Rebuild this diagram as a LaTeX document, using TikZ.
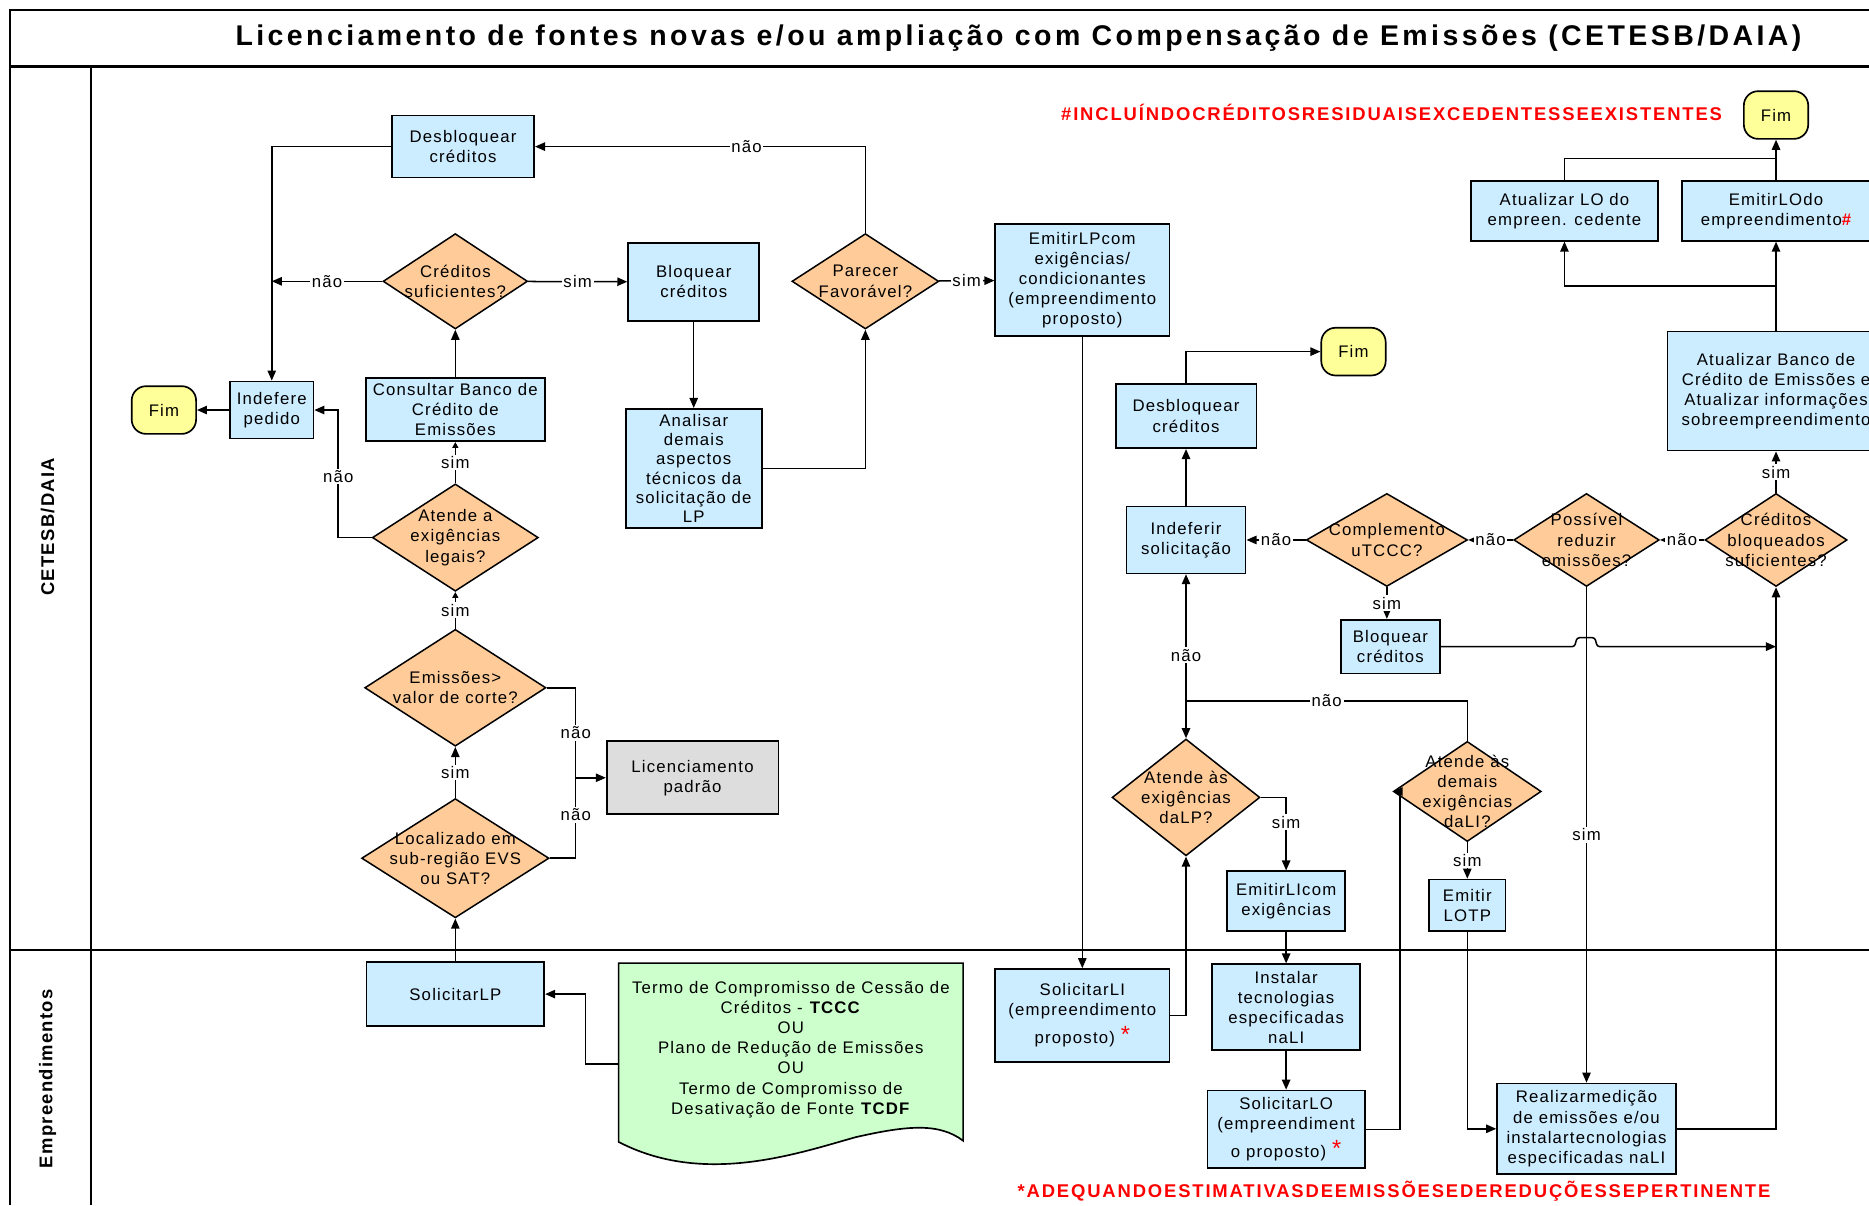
\documentclass[tikz,border=0pt]{standalone}
\usepackage{fontspec}
\setmainfont{Liberation Sans}[LetterSpace=7]
\usetikzlibrary{shapes.geometric,arrows.meta}

\definecolor{boxfill}{HTML}{CCECFF}
\definecolor{decfill}{HTML}{FFCC99}
\definecolor{fimfill}{HTML}{FFFF99}
\definecolor{padfill}{HTML}{DDDDDD}
\definecolor{docfill}{HTML}{CCFFCC}

\newcommand{\redast}{{\color{red}\fontsize{14}{14}\selectfont\raisebox{1pt}{*}}}

\tikzset{
  proc/.style={draw, rectangle, fill=boxfill, line width=1pt, align=center, inner sep=1pt, font=\fontsize{10}{12}\selectfont},
  dec/.style={draw, diamond, fill=decfill, line width=0.9pt, inner sep=0pt},
  dtxt/.style={align=center, inner sep=0pt, font=\fontsize{10}{12}\selectfont},
  fim/.style={draw, rectangle, rounded corners=0.3cm, fill=fimfill, line width=1pt, minimum width=1.35cm, minimum height=1cm, font=\fontsize{10}{12}\selectfont},
  lbl/.style={fill=white, inner sep=1pt, font=\fontsize{10}{12}\selectfont},
  lane/.style={rotate=90, font=\fontsize{11}{13}\bfseries},
  note/.style={text=red, font=\fontsize{11}{13}\bfseries\addfontfeature{LetterSpace=10}},
  arr/.style={-{Triangle[length=6pt,width=5pt]}},
  arrs/.style={-{Triangle[length=3.5pt,width=3.5pt]}},
}

\begin{document}
\begin{tikzpicture}[x=0.025cm, y=-0.025cm, line width=0.9pt]
	\useasboundingbox (0,0) rectangle (1568,1011);
	\clip (0,0) rectangle (1568,1011);

	% quadro e raias
	\draw[line width=1.2pt] (8,1011) -- (8,8) -- (1568,8);
	\draw[line width=2pt] (8,56) -- (1568,56);
	\draw[line width=1.2pt] (76,56) -- (76,1011);
	\draw[line width=1.5pt] (8,797) -- (1568,797);
	\node[font=\fontsize{17}{20}\bfseries\addfontfeature{LetterSpace=12}] (ttl) at (854.5,32) {Licenciamento de fontes novas e/ou ampliação com Compensação de Emissões (CETESB/DAIA)};
	\node[lane] (lane1) at (40,442) {CETESB/DAIA};
	\node[lane] (lane2) at (40,905) {Empreendimentos};
	\node[note] (note1) at (1167.5,94) {\#INCLUÍNDOCRÉDITOSRESIDUAISEXCEDENTESSEEXISTENTES};
	\node[note] (note2) at (1169.5,999) {*ADEQUANDOESTIMATIVASDEEMISSÕESEDEREDUÇÕESSEPERTINENTE};

	% nós - CETESB/DAIA, lado esquerdo
	\node[proc, minimum width=2.98cm, minimum height=1.3cm] (dbl1) at (388.5,123) {Desbloquear\\créditos};
	\node[dec, minimum width=3.03cm, minimum height=2cm, label={[dtxt]center:{Créditos\\suficientes?}}] (cs) at (382,236) {};
	\node[proc, minimum width=2.75cm, minimum height=1.63cm] (bq1) at (582,236.5) {Bloquear\\créditos};
	\node[dec, minimum width=3.08cm, minimum height=2cm, label={[dtxt]center:{Parecer\\Favorável?}}] (pf) at (726,236) {};
	\node[proc, minimum width=3.65cm, minimum height=2.35cm] (elp) at (908,235) {EmitirLPcom\\exigências/\\condicionantes\\(empreendimento\\proposto)};
	\node[fim] (fim1) at (137.5,344) {Fim};
	\node[proc, minimum width=1.75cm, minimum height=1.2cm] (ind) at (228,344) {Indefere\\pedido};
	\node[proc, minimum width=3.75cm, minimum height=1.33cm] (cbe) at (382,343.5) {Consultar Banco de\\Crédito de\\Emissões};
	\node[proc, minimum width=2.85cm, minimum height=2.5cm, inner sep=0pt, font=\fontsize{10}{11.5}\selectfont] (ana) at (582,393) {Analisar\\demais\\aspectos\\técnicos da\\solicitação de\\LP};
	\node[dec, minimum width=3.48cm, minimum height=2.25cm, label={[dtxt]center:{Atende a\\exigências\\legais?}}] (ael) at (382,451) {};
	\node[dec, minimum width=3.8cm, minimum height=2.45cm, label={[dtxt]center:{Emissões>\\valor de corte?}}] (evc) at (382,577) {};
	\node[proc, fill=padfill, minimum width=3.6cm, minimum height=1.53cm] (lpd) at (581,652.5) {Licenciamento\\padrão};
	\node[dec, minimum width=3.93cm, minimum height=2.5cm, label={[dtxt]center:{Localizado em\\sub-região EVS\\ou SAT?}}] (loc) at (382,720) {};

	% nós - CETESB/DAIA, lado direito
	\node[fim] (fim3) at (1490,96.5) {Fim};
	\node[proc, minimum width=3.93cm, minimum height=1.25cm] (alo) at (1312.5,177) {Atualizar LO do\\empreen. cedente};
	\node[proc, minimum width=3.95cm, minimum height=1.25cm] (elo) at (1490,177) {EmitirLOdo\\empreendimento{\color{red}\bfseries\#}};
	\node[proc, minimum width=4.55cm, minimum height=2.5cm] (abc) at (1490,328) {Atualizar Banco de\\Crédito de Emissões e\\Atualizar informações\\sobreempreendimento};
	\node[fim] (fim2) at (1135.5,295) {Fim};
	\node[proc, minimum width=2.95cm, minimum height=1.35cm] (dbl2) at (995,349) {Desbloquear\\créditos};
	\node[proc, minimum width=2.5cm, minimum height=1.4cm] (isol) at (995,453) {Indeferir\\solicitação};
	\node[dec, minimum width=3.38cm, minimum height=1.95cm, label={[dtxt]center:{Complemento\\uTCCC?}}] (cmp) at (1163.5,453) {};
	\node[dec, minimum width=3.05cm, minimum height=1.95cm, label={[dtxt]center:{Possível\\reduzir\\emissões?}}] (prd) at (1331,453) {};
	\node[dec, minimum width=2.98cm, minimum height=1.95cm, label={[dtxt]center:{Créditos\\bloqueados\\suficientes?}}] (cbs) at (1490,453) {};
	\node[proc, minimum width=2.08cm, minimum height=1.13cm] (bq2) at (1166.5,542.5) {Bloquear\\créditos};
	\node[dec, minimum width=3.1cm, minimum height=2.45cm, label={[dtxt]center:{Atende às\\exigências\\daLP?}}] (alp) at (995,669) {};
	\node[dec, minimum width=3.1cm, minimum height=2.1cm, label={[dtxt]center:{Atende às\\demais\\exigências\\daLI?}}] (adl) at (1231,664) {};
	\node[proc, minimum width=2.48cm, minimum height=1.25cm] (eli) at (1079,756) {EmitirLIcom\\exigências};
	\node[proc, minimum width=1.6cm, minimum height=1.08cm] (lotp) at (1231,759.5) {Emitir\\LOTP};

	% nós - Empreendimentos
	\node[proc, minimum width=3.73cm, minimum height=1.35cm] (slp) at (382,834) {SolicitarLP};
	\filldraw[fill=docfill, line width=1pt] (519,808) -- (808,808) -- (808,957) .. controls (788,942) and (762,944) .. (718,954) .. controls (668,968) and (590,995) .. (519,958) -- cycle;
	\node[align=center, inner sep=0pt, minimum width=7.23cm, minimum height=3.73cm, font=\fontsize{10}{12}\selectfont] (doc) at (663.5,880.5) {Termo de Compromisso de Cessão de\\Créditos - \textbf{TCCC}\\OU\\Plano de Redução de Emissões\\OU\\Termo de Compromisso de\\Desativação de Fonte \textbf{TCDF}};
	\node[proc, minimum width=3.65cm, minimum height=1.95cm] (sli) at (908,852) {SolicitarLI\\(empreendimento\\[3pt]proposto) \redast};
	\node[proc, minimum width=3.1cm, minimum height=1.8cm] (ins) at (1079,845) {Instalar\\tecnologias\\especificadas\\naLI};
	\node[proc, minimum width=3.3cm, minimum height=1.63cm] (slo) at (1079,947.5) {SolicitarLO\\(empreendiment\\[3pt]o proposto) \redast};
	\node[proc, minimum width=3.75cm, minimum height=1.9cm] (rme) at (1331,947) {Realizarmedição\\de emissões e/ou\\instalartecnologias\\especificadas naLI};

	% pontos de junção
	\coordinate (jn) at (483,652.5);
	\coordinate (jr) at (995,588);
	\coordinate (jt) at (1490,240);
	\coordinate (jf) at (1490,133);

	% conectores - lado esquerdo
	\draw[arr] (slp) -- (loc);
	\draw[arr] (loc) -- node[lbl]{sim} (evc);
	\draw[arrs] (evc) -- node[lbl]{sim} (ael);
	\draw[arrs] (ael) -- node[lbl]{sim} (cbe);
	\draw[arr] (cbe) -- (cs);
	\draw[arr] (cs) -- node[lbl]{sim} (bq1);
	\draw[arr] (cs.west) -- node[lbl]{não} (cs.west -| ind.north);
	\draw[arr] (bq1) -- (ana);
	\draw[arr] (ana.east) -| (pf.south);
	\draw[arr] (pf) -- node[lbl]{sim} (elp);
	\draw[arr] (pf.north) |- node[lbl, pos=0.68]{não} (dbl1.east);
	\draw[arr] (dbl1.west) -| (ind.north);
	\draw[arr] (ael.west) -- ++(-28,0) |- node[lbl, pos=0.24]{não} (ind.east);
	\draw[arr] (ind) -- (fim1);
	\draw (evc.east) -| node[lbl, pos=0.75]{não} (jn);
	\draw (loc.east) -| node[lbl, pos=0.77]{não} (jn);
	\draw[arr] (jn) -- (lpd.west);
	\draw[arr] ([yshift=-0.3cm]doc.west) -- ++(-27,0) |- (slp.east);

	% conectores - lado direito
	\draw[arr] (elp) -- (sli);
	\draw[arr] (sli.east) -| (alp.south);
	\draw[arr] (alp.east) -| node[lbl, pos=0.67]{sim} (eli.north);
	\draw[arr] (eli) -- (ins);
	\draw[arr] (ins) -- (slo);
	\draw[arr] (slo.east) -| ([xshift=0.15cm]adl.west) -- (adl.west);
	\draw (adl.north) |- node[lbl, pos=0.75]{não} (jr);
	\draw[arr] (jr) -- (alp.north);
	\draw[arr] (jr) -- node[lbl, pos=0.36]{não} (isol.south);
	\draw[arr] (adl) -- node[lbl]{sim} (lotp);
	\draw[arr] (lotp.south) |- (rme.west);
	\draw[arr] (rme.east) -| (cbs.south);
	\draw[arr] (cbs) -- node[lbl]{não} (prd);
	\draw[arr] (prd) -- node[lbl]{não} (cmp);
	\draw[arr] (cmp) -- node[lbl]{não} (isol);
	\draw[arr] (cmp.south) -- node[lbl]{sim} (cmp.south |- bq2.north);
	\draw[arr] (prd) -- node[lbl]{sim} (rme);
	\draw[arr, rounded corners=1.5pt] (bq2.east) -- (1321,542.5) -- (1323,535) -- (1338,535) -- (1340,542.5) -- (cbs.south |- bq2.east);
	\draw[arr] (cbs) -- node[lbl]{sim} (abc);
	\draw[arr] (isol) -- (dbl2);
	\draw[arr] (dbl2.north) |- (fim2.west);
	\draw[arr] (abc.north) -- (elo.south);
	\draw[arr] (jt) -| (alo.south);
	\draw[arr] (elo.north) -- (fim3.south);
	\draw (alo.north) |- (jf);
\end{tikzpicture}
\end{document}
